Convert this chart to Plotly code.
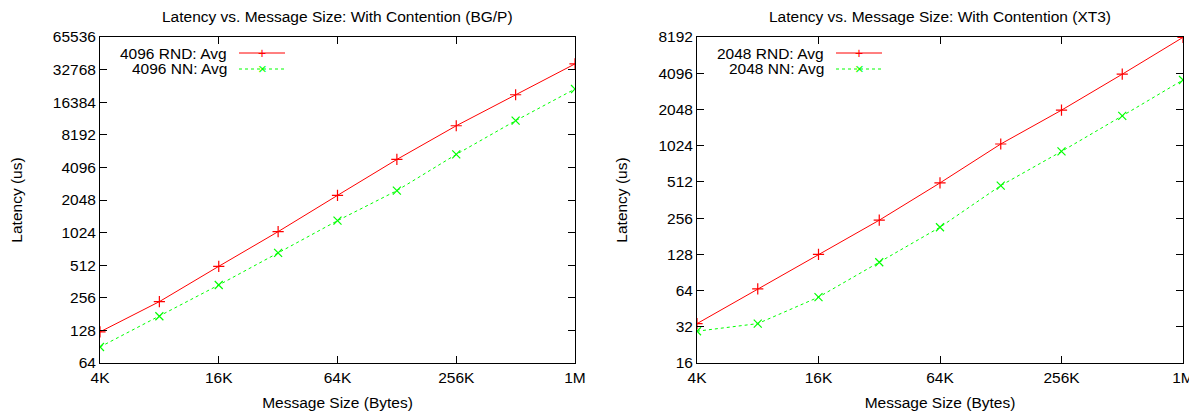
import math
import plotly.graph_objects as go

sizes = [4096, 8192, 16384, 32768, 65536, 131072, 262144, 524288, 1048576]
x_tickvals = [4096, 16384, 65536, 262144, 1048576]
x_ticktext = ["4K", "16K", "64K", "256K", "1M"]

bgp_rnd = [124, 236, 500, 1045, 2260, 4850, 9930, 19200, 37000]
bgp_nn = [90, 173, 336, 665, 1320, 2500, 5400, 11060, 21700]
xt3_rnd = [34, 66, 128, 246, 502, 1057, 2020, 4020, 8140]
xt3_nn = [29.4, 34, 56.4, 110, 215, 477, 917, 1810, 3600]

bgp_yticks = [64, 128, 256, 512, 1024, 2048, 4096, 8192, 16384, 32768, 65536]
xt3_yticks = [16, 32, 64, 128, 256, 512, 1024, 2048, 4096, 8192]

titles = ["Latency vs. Message Size: With Contention (BG/P)",
          "Latency vs. Message Size: With Contention (XT3)"]
legend_names = [["4096 RND: Avg", "4096 NN: Avg"], ["2048 RND: Avg", "2048 NN: Avg"]]

FONT = "Liberation Sans, Arial, Helvetica, sans-serif"
FS = 15.5
RED = "#ff0000"
GREEN = "#00ff00"

# page body has an 8px margin; the figure is sized/placed to compensate
OFF = 8
W, H = 1197 - OFF, 414 - OFF


def fx(px):
    return (px - OFF) / W


def fy(py):
    return 1 - (py - OFF) / H


fig = go.Figure()

panels = [
    dict(rnd=bgp_rnd, nn=bgp_nn, yticks=bgp_yticks, xa="x", ya="y", px=[100, 575]),
    dict(rnd=xt3_rnd, nn=xt3_nn, yticks=xt3_yticks, xa="x2", ya="y2", px=[697, 1183]),
]
py_top, py_bot = 37, 363
ydom = [fy(py_bot), fy(py_top)]

for i, p in enumerate(panels):
    dom = [fx(p["px"][0]), fx(p["px"][1])]
    fig.add_trace(go.Scatter(
        x=sizes, y=p["rnd"], mode="lines+markers", xaxis=p["xa"], yaxis=p["ya"],
        line=dict(color=RED, width=1),
        marker=dict(symbol="cross-thin", size=8, line=dict(color=RED, width=1.2)),
        showlegend=False, name=legend_names[i][0]))
    fig.add_trace(go.Scatter(
        x=sizes, y=p["nn"], mode="lines+markers", xaxis=p["xa"], yaxis=p["ya"],
        line=dict(color=GREEN, width=1, dash="3px,3px"),
        marker=dict(symbol="x-thin", size=8, line=dict(color=GREEN, width=1.2)),
        showlegend=False, name=legend_names[i][1]))

    suffix = "" if i == 0 else "2"
    ymin, ymax = p["yticks"][0], p["yticks"][-1]
    common_axis = dict(showline=True, linecolor="black", linewidth=1, mirror="allticks",
                       ticks="inside", ticklen=7, tickcolor="black", showgrid=False,
                       zeroline=False, automargin=False,
                       tickfont=dict(family=FONT, size=FS, color="black"))
    fig.layout["xaxis" + suffix] = dict(
        type="log", domain=dom, anchor="y" + suffix,
        range=[math.log10(4096), math.log10(1048576)],
        tickvals=x_tickvals, ticktext=x_ticktext,
        title=dict(text="Message Size (Bytes)", font=dict(family=FONT, size=FS, color="black"), standoff=12),
        **common_axis)
    fig.layout["yaxis" + suffix] = dict(
        type="log", domain=ydom, anchor="x" + suffix,
        range=[math.log10(ymin), math.log10(ymax)],
        tickvals=p["yticks"], ticktext=[str(v) for v in p["yticks"]],
        title=dict(text="Latency (us)", font=dict(family=FONT, size=FS, color="black"), standoff=26),
        **common_axis)

    fig.add_annotation(text=titles[i], xref=p["xa"] + " domain", yref="paper",
                       x=0.5, y=fy(16.5), xanchor="center", yanchor="middle", showarrow=False,
                       font=dict(family=FONT, size=FS, color="black"))

    # gnuplot-style key
    dw = p["px"][1] - p["px"][0]
    dh = py_bot - py_top
    text_right = (229 - 100) / dw
    l0 = (239 - 100) / dw
    l1 = (285 - 100) / dw
    rows = [(53 - py_top) / dh, (69 - py_top) / dh]
    styles = [(RED, "solid", "+"), (GREEN, "dash", "×")]
    for r in range(2):
        yy = 1 - rows[r]
        fig.add_annotation(text=legend_names[i][r], xref=p["xa"] + " domain", yref=p["ya"] + " domain",
                           x=text_right, y=yy, xanchor="right", yanchor="middle", showarrow=False,
                           font=dict(family=FONT, size=FS, color="black"))
        col, dash, sym = styles[r]
        fig.add_shape(type="line", xref=p["xa"] + " domain", yref=p["ya"] + " domain",
                      x0=l0, x1=l1, y0=yy, y1=yy,
                      line=dict(color=col, width=1, dash="3px,3px" if dash == "dash" else "solid"))
        fig.add_annotation(text=sym, xref=p["xa"] + " domain", yref=p["ya"] + " domain",
                           x=(l0 + l1) / 2, y=yy, xanchor="center", yanchor="middle", showarrow=False,
                           font=dict(family=FONT, size=14 if sym == "+" else 15, color=col))

fig.update_layout(
    width=W, height=H,
    margin=dict(l=0, r=0, t=0, b=0),
    paper_bgcolor="white", plot_bgcolor="white",
    font=dict(family=FONT, size=FS, color="black"),
    showlegend=False,
)

fig.write_html("out.html")
